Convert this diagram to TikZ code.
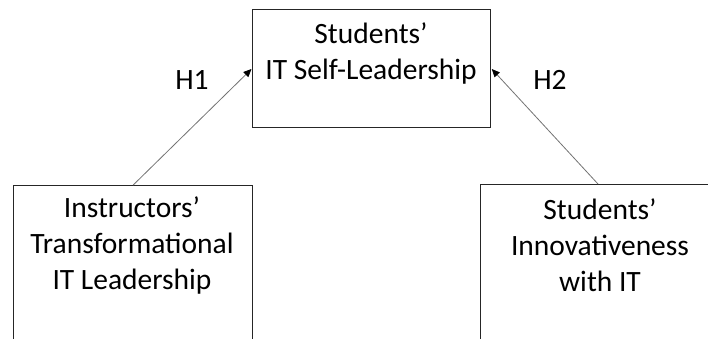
\documentclass[tikz,border=0pt]{standalone}
\usepackage{fontspec}
\setmainfont{Carlito}
\usetikzlibrary{arrows.meta,calc}
\begin{document}
\begin{tikzpicture}[x=1pt,y=-1pt,
  box/.style={draw=black!85,line width=1pt,rectangle,inner sep=0pt,anchor=north west},
  lbl/.style={align=center,font=\fontsize{29.5}{36}\selectfont,inner sep=0pt,anchor=center},
  hyp/.style={font=\fontsize{29.5}{34}\selectfont,inner sep=0pt},
  arr/.style={draw=black!55,line width=0.8pt,-{Triangle[length=8pt,width=7pt,fill=black,color=black]}}]
\useasboundingbox (0,0) rectangle (708,338);
\node[box,minimum width=238pt,minimum height=118pt] (top) at (252,9) {};
\node[box,minimum width=239pt,minimum height=200pt] (left) at (12.7,185) {};
\node[box,minimum width=240pt,minimum height=200pt] (right) at (480,184) {};
\node[lbl] (toptext) at (371,53) {Students’\\IT Self-Leadership};
\node[lbl] (lefttext) at (132,245) {Instructors’\\Transformational\\IT Leadership};
\node[lbl] (righttext) at (600,245) {Students’\\Innovativeness\\with IT};
\node[hyp] (h1) at (192,80) {H1};
\node[hyp] (h2) at (550,80) {H2};
\coordinate (s1) at ($(left.north west)+(120.5,0)$);
\coordinate (e1) at ($(top.north west)+(-0.5,60)$);
\coordinate (s2) at ($(right.north west)+(118,0)$);
\coordinate (e2) at ($(top.north east)+(0.8,60)$);
\draw[arr] (s1) -- (e1);
\draw[arr] (s2) -- (e2);
\end{tikzpicture}
\end{document}
